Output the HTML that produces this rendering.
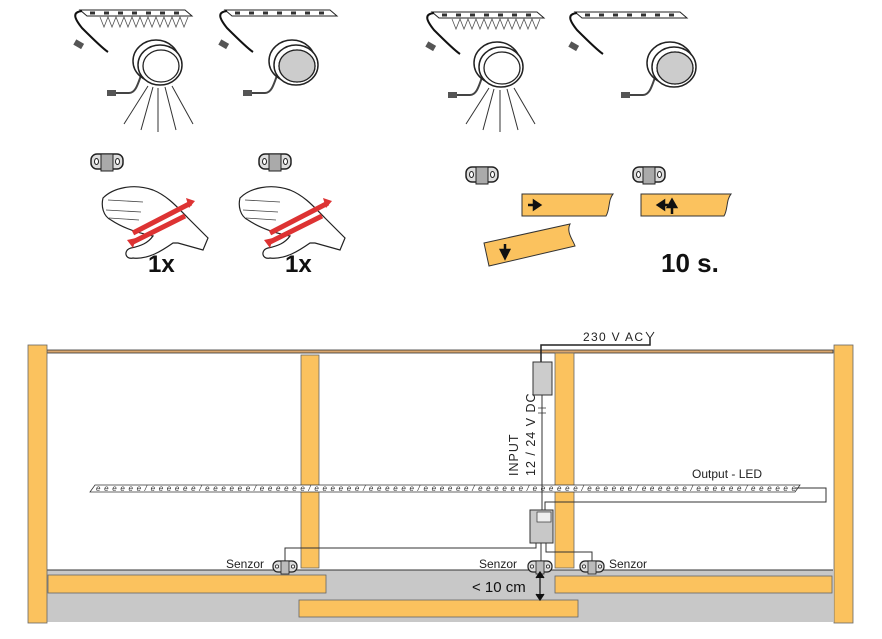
<!DOCTYPE html>
<html><head><meta charset="utf-8"><style>
html,body{margin:0;padding:0;background:#fff}
svg{display:block}
text{font-family:"Liberation Sans",sans-serif}
</style></head><body>
<svg width="882" height="639" viewBox="0 0 882 639" xmlns="http://www.w3.org/2000/svg">
<defs>
<g id="strip">
  <path d="M0 0 L105 0 L112 6 L7 6 Z" fill="#fff" stroke="#222" stroke-width="1"/>
  <g fill="#333"><rect x="10" y="1.5" width="5" height="3"/><rect x="24" y="1.5" width="5" height="3"/><rect x="38" y="1.5" width="5" height="3"/><rect x="52" y="1.5" width="5" height="3"/><rect x="66" y="1.5" width="5" height="3"/><rect x="80" y="1.5" width="5" height="3"/><rect x="94" y="1.5" width="5" height="3"/></g>
  <path d="M2 1 C-8 2 -6 8 2 18 C12 28 22 38 28 42" fill="none" stroke="#111" stroke-width="2"/>
  <rect x="-6" y="32" width="9" height="6" fill="#555" transform="rotate(30 0 35)"/>
</g>
<g id="rays">
  <path d="M0 0 L4 10 L8 0 L12 10 L16 0 L20 10 L24 0 L28 10 L32 0 L36 10 L40 0 L44 10 L48 0 L52 10 L56 0 L60 10 L64 0 L68 10 L72 0 L76 10 L80 0 L84 10 L88 0" stroke="#555" stroke-width="0.8" fill="none"/>
</g>
<g id="puck">
  <path d="M-45 30 L-30 30 C-20 30 -20 10 -10 -5" fill="none" stroke="#444" stroke-width="2"/>
  <rect x="-52" y="27" width="9" height="6" fill="#555"/>
  <ellipse cx="-3" cy="-2" rx="23" ry="21" fill="#fff" stroke="#222" stroke-width="1.5"/>
  <ellipse cx="1" cy="2" rx="22" ry="20" fill="#fff" stroke="#222" stroke-width="1.5"/>
  <ellipse cx="2" cy="3" rx="18" ry="16" fill="#fff" stroke="#222" stroke-width="1.3"/>
</g>
<g id="sensor">
  <rect x="0" y="0" width="32" height="15" rx="6" fill="#ddd" stroke="#222" stroke-width="1.5"/>
  <rect x="10" y="0" width="12" height="17" fill="#aaa" stroke="#222" stroke-width="1"/>
  <ellipse cx="5.5" cy="7.5" rx="2" ry="3" fill="#fff" stroke="#222"/>
  <ellipse cx="26.5" cy="7.5" rx="2" ry="3" fill="#fff" stroke="#222"/>
</g>
<g id="hand">
  <path d="M0 10 C10 0 30 -5 50 2 C65 8 75 20 85 30 L105 50 L100 62 L75 55 L70 55 C60 62 45 72 30 70 C22 72 20 62 28 60 C38 58 45 55 50 48 C35 45 20 40 8 32 C0 28 -2 18 0 10 Z" fill="#fff" stroke="#222" stroke-width="1.2"/>
  <path d="M5 12 L40 14 M3 22 L38 24 M6 30 L36 32" stroke="#444" stroke-width="0.8"/>
  <path d="M30 45 L88 15 M28 55 L82 28" stroke="#d33" stroke-width="5"/>
  <path d="M83 10 L92 13 L86 20 Z M24 52 L33 50 L30 60 Z" fill="#d33"/>
</g>
<g id="sens2">
  <rect x="0" y="0" width="24" height="11" rx="5" fill="#ddd" stroke="#222" stroke-width="1.2"/>
  <rect x="8" y="0" width="8" height="13" fill="#bbb" stroke="#222" stroke-width="0.8"/>
  <circle cx="4" cy="5.5" r="1.6" fill="#fff" stroke="#222" stroke-width="0.8"/>
  <circle cx="20" cy="5.5" r="1.6" fill="#fff" stroke="#222" stroke-width="0.8"/>
</g>
</defs>

<use href="#strip" x="80" y="10"/>
<use href="#rays" x="100" y="17"/>
<use href="#puck" x="159" y="63"/>
<g stroke="#333" stroke-width="1" fill="none"><path d="M148 86 L124 124 M153 87 L141 130 M158 88 L158 132 M165 87 L176 130 M172 86 L193 124"/></g>

<use href="#strip" x="225" y="10"/>
<use href="#puck" x="295" y="63"/>
<ellipse cx="297" cy="66" rx="18" ry="16" fill="#ccc" stroke="#222" stroke-width="1.3"/>

<use href="#strip" x="432" y="12"/>
<use href="#rays" x="452" y="19"/>
<use href="#puck" x="500" y="65"/>
<g stroke="#333" stroke-width="1" fill="none"><path d="M489 88 L466 124 M494 89 L483 130 M500 90 L500 132 M507 89 L518 130 M514 88 L535 124"/></g>

<use href="#strip" x="575" y="12"/>
<use href="#puck" x="673" y="65"/>
<ellipse cx="675" cy="68" rx="18" ry="16" fill="#ccc" stroke="#222" stroke-width="1.3"/>

<use href="#sensor" x="91" y="154"/>
<use href="#sensor" x="259" y="154"/>
<use href="#sensor" x="466" y="167"/>
<use href="#sensor" x="633" y="167"/>

<use href="#hand" x="103" y="188"/>
<use href="#hand" x="240" y="188"/>
<text x="148" y="272" font-size="24" font-weight="bold" fill="#111">1x</text>
<text x="285" y="272" font-size="24" font-weight="bold" fill="#111">1x</text>

<path d="M522 194 L613 194 C608 200 610 210 606 216 L522 216 Z" fill="#fbc25e" stroke="#333"/>
<path d="M528 205 L538 205 M534 201 L540 205 L534 209 Z" stroke="#111" stroke-width="2.5" fill="#111"/>
<path d="M641 194 L731 194 C726 200 728 210 724 216 L641 216 Z" fill="#fbc25e" stroke="#333"/>
<path d="M661 205 L668 205 M664 201 L658 205 L664 209 Z M672 214 L672 205 M668 207 L672 200 L676 207 Z" stroke="#111" stroke-width="2.5" fill="#111"/>
<path d="M484 243 L570 224 C566 232 573 240 575 246 L489 266 Z" fill="#fbc25e" stroke="#333"/>
<path d="M505 244 L505 254 M501 250 L505 258 L509 250 Z" stroke="#111" stroke-width="2.5" fill="#111"/>
<text x="661" y="272" font-size="26" font-weight="bold" fill="#111">10 s.</text>

<rect x="47" y="570" width="786" height="52" fill="#c8c8c8"/>
<line x1="47" y1="570" x2="833" y2="570" stroke="#333" stroke-width="1"/>
<rect x="47" y="350" width="786" height="3" fill="#d9a56c" stroke="#333" stroke-width="0.8"/>
<rect x="28" y="345" width="19" height="278" fill="#fbc25e" stroke="#666" stroke-width="0.8"/>
<rect x="834" y="345" width="19" height="278" fill="#fbc25e" stroke="#666" stroke-width="0.8"/>
<rect x="301" y="355" width="18" height="213" fill="#fbc25e" stroke="#666" stroke-width="0.8"/>
<rect x="555" y="353" width="19" height="215" fill="#fbc25e" stroke="#666" stroke-width="0.8"/>
<rect x="48" y="575" width="278" height="18" fill="#fbc25e" stroke="#666" stroke-width="0.8"/>
<rect x="555" y="576" width="277" height="17" fill="#fbc25e" stroke="#666" stroke-width="0.8"/>
<rect x="299" y="600" width="279" height="17" fill="#fbc25e" stroke="#666" stroke-width="0.8"/>

<path d="M90 492 L795 492 L800 485 L95 485 Z" fill="#fff" stroke="#333" stroke-width="0.8"/>
<text x="96" y="491" font-size="8" fill="#333" font-style="italic" textLength="700" lengthAdjust="spacing">eeeeee/eeeeee/eeeeee/eeeeee/eeeeee/eeeeee/eeeeee/eeeeee/eeeeee/eeeeee/eeeeee/eeeeee/eeeeee</text>
<path d="M796 488 L826 488 L826 502 L545 502 L545 510" fill="none" stroke="#333" stroke-width="1"/>
<path d="M650 338 L650 345 L541 345 L541 362" fill="none" stroke="#222" stroke-width="1.5"/>
<path d="M646 332 L650 338 L654 332" fill="none" stroke="#222"/>
<line x1="542" y1="395" x2="542" y2="510" stroke="#333" stroke-width="1"/>
<path d="M538 408 L546 408 M538 413 L546 413" stroke="#333" stroke-width="0.8"/>
<rect x="533" y="362" width="19" height="33" fill="#ccc" stroke="#333"/>
<rect x="530" y="510" width="23" height="33" fill="#c8c8c8" stroke="#333"/>
<rect x="537" y="512" width="14" height="10" fill="#eee" stroke="#333" stroke-width="0.7"/>
<path d="M536 543 L536 548 L285 548 L285 562" fill="none" stroke="#333" stroke-width="1"/>
<path d="M541 543 L541 562 M546 543 L546 552 L592 552 L592 562" fill="none" stroke="#333" stroke-width="1"/>
<use href="#sens2" x="273" y="561"/>
<use href="#sens2" x="528" y="561"/>
<use href="#sens2" x="580" y="561"/>
<path d="M540 573 L540 600 M536 578 L540 572 L544 578 M536 594 L540 600 L544 594" stroke="#111" stroke-width="1.2" fill="#111"/>

<text x="583" y="341" font-size="12" fill="#222" textLength="60">230 V AC</text>
<text x="692" y="478" font-size="12" fill="#222">Output - LED</text>
<text x="226" y="568" font-size="12" fill="#222">Senzor</text>
<text x="479" y="568" font-size="12" fill="#222">Senzor</text>
<text x="609" y="568" font-size="12" fill="#222">Senzor</text>
<text x="472" y="592" font-size="15" fill="#111">&lt; 10 cm</text>
<text transform="translate(518,476) rotate(-90)" font-size="12.5" fill="#222" letter-spacing="1">INPUT</text>
<text transform="translate(535,476) rotate(-90)" font-size="12.5" fill="#222" letter-spacing="1">12 / 24 V DC</text>
</svg>
</body></html>
